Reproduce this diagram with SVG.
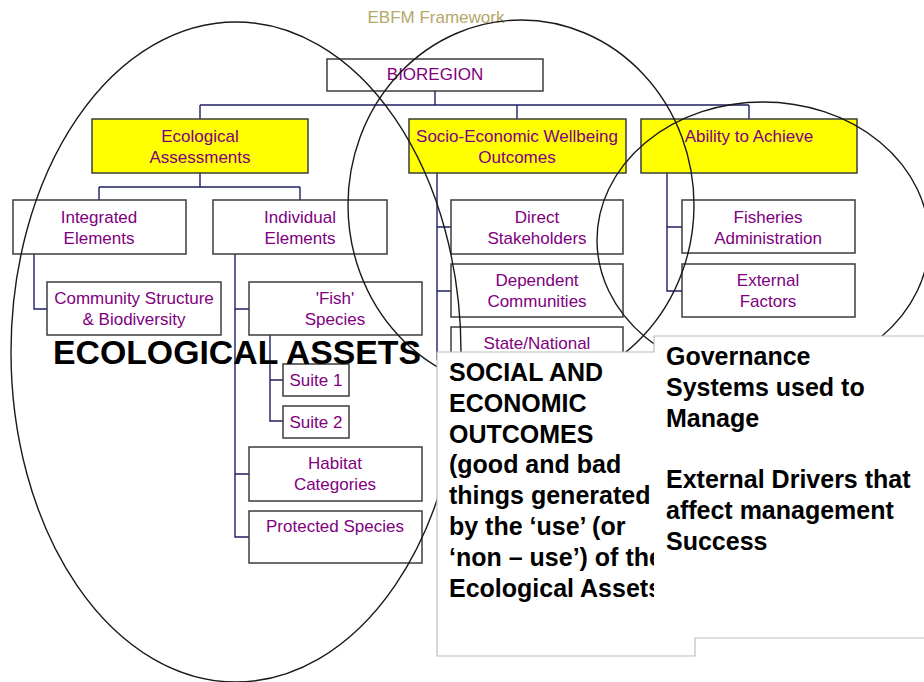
<svg xmlns="http://www.w3.org/2000/svg" width="924" height="682" viewBox="0 0 924 682">
<style>
.box{fill:#fff;stroke:#3c3c3c;stroke-width:1.5}
.ybox{fill:#ffff00;stroke:#3c3c3c;stroke-width:1.5}
.lbl{font-family:"Liberation Sans",Arial,sans-serif;font-size:17px;fill:#800080;text-anchor:middle}
.conn{fill:none;stroke:#1f1f66;stroke-width:1.4}
.ell{fill:none;stroke:#1a1a1a;stroke-width:1.4}
.big{font-family:"Liberation Sans",Arial,sans-serif;font-weight:bold;fill:#000}
</style>
<rect width="924" height="682" fill="#fff"/>
<text x="436" y="23" font-family="'Liberation Sans',Arial,sans-serif" font-size="17" fill="#b4a86a" text-anchor="middle">EBFM Framework</text>
<g id="connectors">
<path class="conn" d="M435,91V105M200,105H749M200,105V119M517,105V119M749,105V119"/>
<path class="conn" d="M200,173V187M99,187H300M99,187V200M300,187V200"/>
<path class="conn" d="M34,254V309H47"/>
<path class="conn" d="M235,254V537H249M235,309H249M235,474H249"/>
<path class="conn" d="M270,335V421H283M270,380H283"/>
<path class="conn" d="M437,173V360M437,227H451M437,291H451M437,354H451"/>
<path class="conn" d="M667,173V291H682M667,227H682"/>
</g>
<g id="bioregion"><rect class="box" x="327" y="59" width="216" height="32"/><text class="lbl" x="435" y="80">BIOREGION</text></g>
<g id="ecological-assessments"><rect class="ybox" x="92" y="119" width="216" height="54"/><text class="lbl" x="200" y="142">Ecological</text><text class="lbl" x="200" y="163">Assessments</text></g>
<g id="socio-economic"><rect class="ybox" x="409" y="119" width="217" height="54"/><text class="lbl" x="517" y="142">Socio-Economic Wellbeing</text><text class="lbl" x="517" y="163">Outcomes</text></g>
<g id="ability"><rect class="ybox" x="641" y="119" width="216" height="54"/><text class="lbl" x="749" y="142">Ability to Achieve</text></g>
<g id="integrated"><rect class="box" x="13" y="200" width="173" height="54"/><text class="lbl" x="99" y="223">Integrated</text><text class="lbl" x="99" y="244">Elements</text></g>
<g id="individual"><rect class="box" x="213" y="200" width="174" height="54"/><text class="lbl" x="300" y="223">Individual</text><text class="lbl" x="300" y="244">Elements</text></g>
<g id="community"><rect class="box" x="47" y="282" width="174" height="53"/><text class="lbl" x="134" y="304">Community Structure</text><text class="lbl" x="134" y="325">&amp; Biodiversity</text></g>
<g id="fish"><rect class="box" x="249" y="282" width="173" height="53"/><text class="lbl" x="335" y="304">'Fish'</text><text class="lbl" x="335" y="325">Species</text></g>
<g id="suite1"><rect class="box" x="283" y="364" width="66" height="32"/><text class="lbl" x="316" y="386">Suite 1</text></g>
<g id="suite2"><rect class="box" x="283" y="406" width="66" height="32"/><text class="lbl" x="316" y="428">Suite 2</text></g>
<g id="habitat"><rect class="box" x="249" y="447" width="173" height="54"/><text class="lbl" x="335" y="469">Habitat</text><text class="lbl" x="335" y="490">Categories</text></g>
<g id="protected"><rect class="box" x="249" y="511" width="173" height="52"/><text class="lbl" x="335" y="532">Protected Species</text></g>
<g id="direct"><rect class="box" x="451" y="200" width="172" height="54"/><text class="lbl" x="537" y="223">Direct</text><text class="lbl" x="537" y="244">Stakeholders</text></g>
<g id="dependent"><rect class="box" x="451" y="264" width="172" height="53"/><text class="lbl" x="537" y="286">Dependent</text><text class="lbl" x="537" y="307">Communities</text></g>
<g id="state"><rect class="box" x="451" y="327" width="172" height="45"/><text class="lbl" x="537" y="349">State/National</text></g>
<g id="fisheries"><rect class="box" x="682" y="200" width="173" height="53"/><text class="lbl" x="768" y="223">Fisheries</text><text class="lbl" x="768" y="244">Administration</text></g>
<g id="external"><rect class="box" x="682" y="264" width="173" height="53"/><text class="lbl" x="768" y="286">External</text><text class="lbl" x="768" y="307">Factors</text></g>
<g id="ellipses">
<ellipse class="ell" cx="236" cy="352" rx="225" ry="330"/>
<ellipse class="ell" cx="521" cy="205" rx="173" ry="185"/>
<ellipse class="ell" cx="763" cy="240" rx="166" ry="138"/>
</g>
<text class="big" x="53" y="364" font-size="33.5" textLength="368" lengthAdjust="spacingAndGlyphs">ECOLOGICAL ASSETS</text>
<g id="overlay">
<rect x="437" y="352" width="258" height="304" fill="#fff"/>
<g class="big" font-size="25">
<text x="449" y="381">SOCIAL AND</text>
<text x="449" y="412">ECONOMIC</text>
<text x="449" y="443">OUTCOMES</text>
<text x="449" y="473">(good and bad</text>
<text x="449" y="504">things generated</text>
<text x="449" y="535">by the ‘use’ (or</text>
<text x="449" y="566">‘non – use’) of the</text>
<text x="449" y="597">Ecological Assets</text>
</g>
<rect x="654" y="336" width="280" height="302" fill="#fff"/>
<path d="M437,352H654V336H930V638H695V656H437Z" fill="none" stroke="#bdbdbd" stroke-width="1.2"/>
<g class="big" font-size="25">
<text x="666" y="365">Governance</text>
<text x="666" y="396">Systems used to</text>
<text x="666" y="427">Manage</text>
<text x="666" y="488">External Drivers that</text>
<text x="666" y="519">affect management</text>
<text x="666" y="550">Success</text>
</g>
</g>
</svg>
